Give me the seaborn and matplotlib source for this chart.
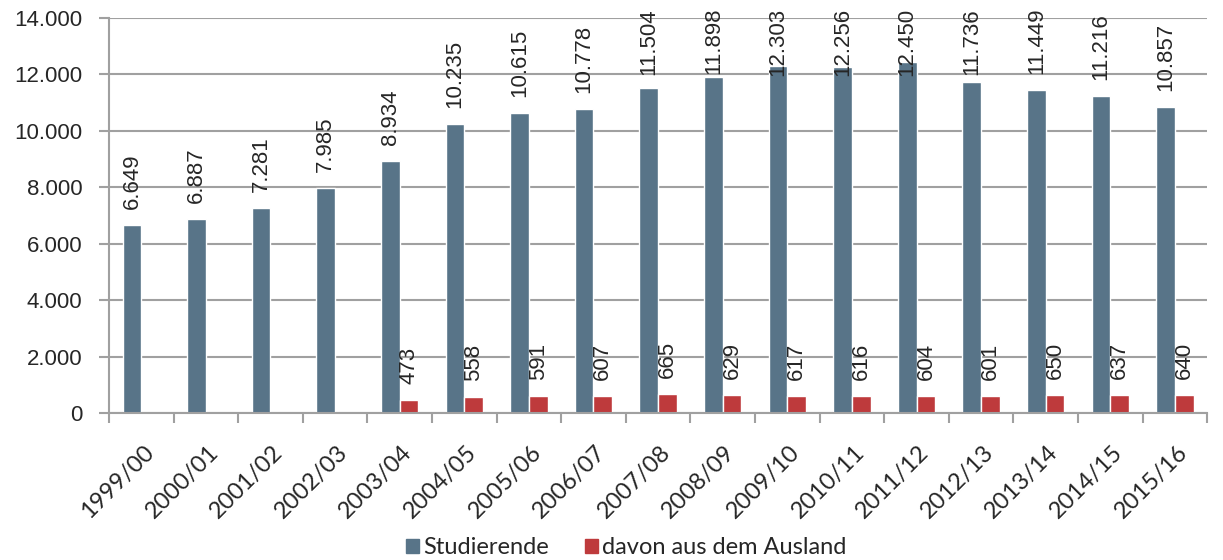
import pandas as pd
import numpy as np
import seaborn as sns
import matplotlib.pyplot as plt
from matplotlib.patches import Patch
from matplotlib.transforms import ScaledTranslation

# Data
semester = ['1999/00', '2000/01', '2001/02', '2002/03', '2003/04', '2004/05',
            '2005/06', '2006/07', '2007/08', '2008/09', '2009/10', '2010/11',
            '2011/12', '2012/13', '2013/14', '2014/15', '2015/16']
studierende = [6649, 6887, 7281, 7985, 8934, 10235, 10615, 10778, 11504,
               11898, 12303, 12256, 12450, 11736, 11449, 11216, 10857]
ausland = [np.nan, np.nan, np.nan, np.nan, 473, 558, 591, 607, 665,
           629, 617, 616, 604, 601, 650, 637, 640]
series_names = ['Studierende', 'davon aus dem Ausland']
colors = ['#587488', '#BE3A3C']

df = pd.DataFrame({
    'semester': semester * 2,
    'wert': studierende + ausland,
    'serie': [series_names[0]] * len(semester) + [series_names[1]] * len(semester),
})

sns.set_style('white')
plt.rcParams['font.family'] = ['Liberation Sans', 'DejaVu Sans']

fig = plt.figure(figsize=(12.23, 5.6), dpi=100)
ax = fig.add_axes([0.0891, 0.2625, 0.898, 0.7055])

sns.barplot(data=df, x='semester', y='wert', hue='serie', palette=colors,
            width=0.58, saturation=1, ax=ax, legend=False)


def de_fmt(v):
    return f'{v:,.0f}'.replace(',', '.')


# value labels, rotated, above each bar (seaborn skips the NaN bars)
texts = []
for cont, vals in zip(ax.containers, [studierende, ausland]):
    bars = [b for b in cont.patches if b is not None]
    vals = [v for v in vals if not np.isnan(v)]
    for bar, v in zip(bars, vals):
        t = ax.annotate(de_fmt(v), (bar.get_x() + bar.get_width() / 2, bar.get_height()),
                        xytext=(0, 16), textcoords='offset pixels', rotation=90,
                        ha='center', va='bottom', fontsize=16)
        texts.append(t)

ax.set_ylim(0, 14000)
ax.set_xlim(-0.5, len(semester) - 0.5)
ax.set_yticks(range(0, 14001, 2000))
ax.set_yticklabels([de_fmt(v) for v in range(0, 14001, 2000)], fontsize=16)
ax.yaxis.grid(True, color='#A0A0A0', linewidth=1.5)
ax.set_axisbelow(True)
ax.tick_params(axis='y', length=7, color='#A0A0A0', width=1.5, pad=12, left=True)

ax.set_xticks(range(len(semester)))
ax.set_xticklabels(semester, rotation=45, ha='right', va='center',
                   rotation_mode='anchor', fontsize=17, family=['Lato', 'DejaVu Sans'])
ax.tick_params(axis='x', length=0, pad=28)
# nudge labels a bit to the right, like the original
shift = ScaledTranslation(0.09, 0.03, fig.dpi_scale_trans)
for lbl in ax.get_xticklabels():
    lbl.set_transform(lbl.get_transform() + shift)
ax.set_xticks(np.arange(-0.5, len(semester)), minor=True)
ax.tick_params(axis='x', which='minor', length=7, color='#A0A0A0', width=1.5,
               bottom=True)

for s in ['top', 'right']:
    ax.spines[s].set_visible(False)
for s in ['left', 'bottom']:
    ax.spines[s].set_color('#A0A0A0')
    ax.spines[s].set_linewidth(1.5)

ax.set_xlabel('')
ax.set_ylabel('')

handles = [Patch(color=c) for c in colors]
fig.legend(handles, series_names, loc='lower center', ncol=2, frameon=False,
           bbox_to_anchor=(0.512, -0.035), handlelength=0.55, handleheight=0.55,
           handletextpad=0.2, columnspacing=1.5,
           prop={'family': ['Lato', 'DejaVu Sans'], 'size': 17})

# keep labels inside the chart area: push tall ones down onto the bar
fig.canvas.draw()
renderer = fig.canvas.get_renderer()
limit = fig.bbox.height - 8
for t in texts:
    bb = t.get_window_extent(renderer)
    if bb.y1 > limit:
        t.xyann = (0, 16 - (bb.y1 - limit))

fig.savefig('out.png', dpi=100)
